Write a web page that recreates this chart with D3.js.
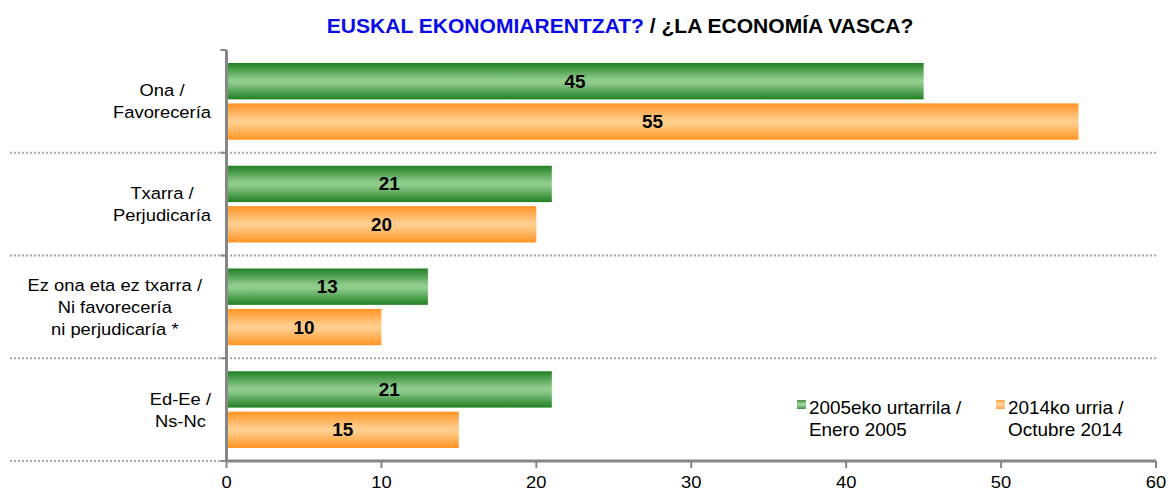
<!DOCTYPE html>
<html>
<head>
<meta charset="utf-8">
<script src="https://cdn.jsdelivr.net/npm/d3@7"></script>
<style>
  body { margin: 0; background: #fff; }
  text { font-family: "Liberation Sans", Arial, sans-serif; }
</style>
</head>
<body>
<svg id="chart"></svg>
<script>
// chart data
const categories = [
  ['Ona /', 'Favorecería'],
  ['Txarra /', 'Perjudicaría'],
  ['Ez ona eta ez txarra /', 'Ni favorecería', 'ni perjudicaría *'],
  ['Ed-Ee /', 'Ns-Nc']
];
const seriesNames = [
  ['2005eko urtarrila /', 'Enero 2005'],
  ['2014ko urria /', 'Octubre 2014']
];
const values2005 = [45, 21, 13, 21];
const values2014 = [55, 20, 10, 15];
const xTicks = [0, 10, 20, 30, 40, 50, 60];

const W = 1169, H = 492;
const SX = 1.08; // source text is drawn a bit wide

const svg = d3.select('#chart').attr('width', W).attr('height', H);

const x = d3.scaleLinear().domain([0, 60]).range([226.5, 1156]);
const y = d3.scaleBand().domain(d3.range(categories.length)).range([50, 461]).padding(0);
const inner = d3.scaleBand().domain([0, 1]).range([13, y.bandwidth() - 13]).paddingInner(0.1);

// gradients
const defs = svg.append('defs');
const grads = [
  { id: 'gGreen', edge: '#1f8022', mid: '#8fcb8c' },
  { id: 'gOrange', edge: '#ff9424', mid: '#ffcd8b' }
];
grads.forEach(g => {
  const lg = defs.append('linearGradient').attr('id', g.id)
    .attr('x1', 0).attr('x2', 0).attr('y1', 0).attr('y2', 1);
  lg.append('stop').attr('offset', '0%').attr('stop-color', g.edge);
  lg.append('stop').attr('offset', '45%').attr('stop-color', g.mid);
  lg.append('stop').attr('offset', '55%').attr('stop-color', g.mid);
  lg.append('stop').attr('offset', '100%').attr('stop-color', g.edge);
});

const addText = (sel, tx, ty, str, size, weight, anchor, fill) =>
  sel.append('text')
    .attr('transform', `translate(${tx},${ty}) scale(${SX},1)`)
    .attr('text-anchor', anchor || 'start')
    .attr('font-size', size)
    .attr('font-weight', weight || 'normal')
    .attr('fill', fill || '#000')
    .text(str);

// title
const title = svg.append('text')
  .attr('transform', `translate(620,33) scale(${SX},1)`)
  .attr('text-anchor', 'middle')
  .attr('font-size', 19.5)
  .attr('font-weight', 'bold');
title.append('tspan').attr('fill', '#0a0ae6').text('EUSKAL EKONOMIARENTZAT?');
title.append('tspan').attr('fill', '#000').text(' / ¿LA ECONOMÍA VASCA?');

// dotted separators between categories
const seps = d3.range(1, categories.length + 1).map(i => y(0) + i * y.step());
svg.selectAll('line.sep').data(seps).enter().append('line')
  .attr('class', 'sep')
  .attr('x1', 10).attr('x2', 1158)
  .attr('y1', d => d).attr('y2', d => d)
  .attr('stroke', '#a6a6a6').attr('stroke-width', 2)
  .attr('stroke-dasharray', '2,2');

// bars
const series = [
  { vals: values2005, fill: 'url(#gGreen)' },
  { vals: values2014, fill: 'url(#gOrange)' }
];
series.forEach((s, si) => {
  const g = svg.append('g');
  g.selectAll('rect').data(s.vals).enter().append('rect')
    .attr('x', x(0))
    .attr('y', (d, i) => y(i) + inner(si))
    .attr('width', d => x(d) - x(0))
    .attr('height', inner.bandwidth())
    .attr('fill', s.fill);
  s.vals.forEach((v, i) => {
    addText(g, (x(0) + x(v)) / 2, y(i) + inner(si) + inner.bandwidth() / 2 + 6.5, v, 17.5, 'bold', 'middle');
  });
});

// y axis
const yAxis = svg.append('g');
yAxis.append('line')
  .attr('x1', x(0)).attr('x2', x(0)).attr('y1', 50).attr('y2', 461)
  .attr('stroke', '#868686').attr('stroke-width', 3);
yAxis.selectAll('line.tk').data([50].concat(seps)).enter().append('line')
  .attr('class', 'tk')
  .attr('x1', x(0) - 6).attr('x2', x(0))
  .attr('y1', d => d).attr('y2', d => d)
  .attr('stroke', '#868686').attr('stroke-width', 2);

// category labels: lines centered within a right-aligned block
categories.forEach((lines, i) => {
  const lh = 22;
  const cy = y(i) + y.bandwidth() / 2;
  const top = cy - (lines.length - 1) * lh / 2 + 6;
  const g = svg.append('g');
  const texts = lines.map((l, j) => addText(g, 0, top + j * lh, l, 17, 'normal', 'middle'));
  const maxW = d3.max(texts, t => t.node().getComputedTextLength()) * SX;
  const right = lines.length > 2 ? 202 : 211;
  const cx = right - maxW / 2;
  texts.forEach((t, j) => t.attr('transform', `translate(${cx},${top + j * lh}) scale(${SX},1)`));
});

// x axis
const xAxis = svg.append('g');
xAxis.append('line')
  .attr('x1', x(0)).attr('x2', x(60)).attr('y1', 461).attr('y2', 461)
  .attr('stroke', '#868686').attr('stroke-width', 3);
xAxis.selectAll('line.tk').data(xTicks).enter().append('line')
  .attr('class', 'tk')
  .attr('x1', d => x(d)).attr('x2', d => x(d))
  .attr('y1', 461).attr('y2', 468)
  .attr('stroke', '#868686').attr('stroke-width', 2);
xTicks.forEach(t => addText(xAxis, x(t), 488, t, 17, 'normal', 'middle'));

// legend
const legend = svg.append('g');
const legX = [797, 996];
const legFill = ['url(#gGreen)', 'url(#gOrange)'];
seriesNames.forEach((lines, i) => {
  legend.append('rect')
    .attr('x', legX[i]).attr('y', 400)
    .attr('width', 9).attr('height', 9)
    .attr('fill', legFill[i]).attr('opacity', 0.85);
  lines.forEach((l, j) => addText(legend, legX[i] + 12, 414 + j * 22, l, 17.5, 'normal', 'start'));
});
</script>
</body>
</html>
